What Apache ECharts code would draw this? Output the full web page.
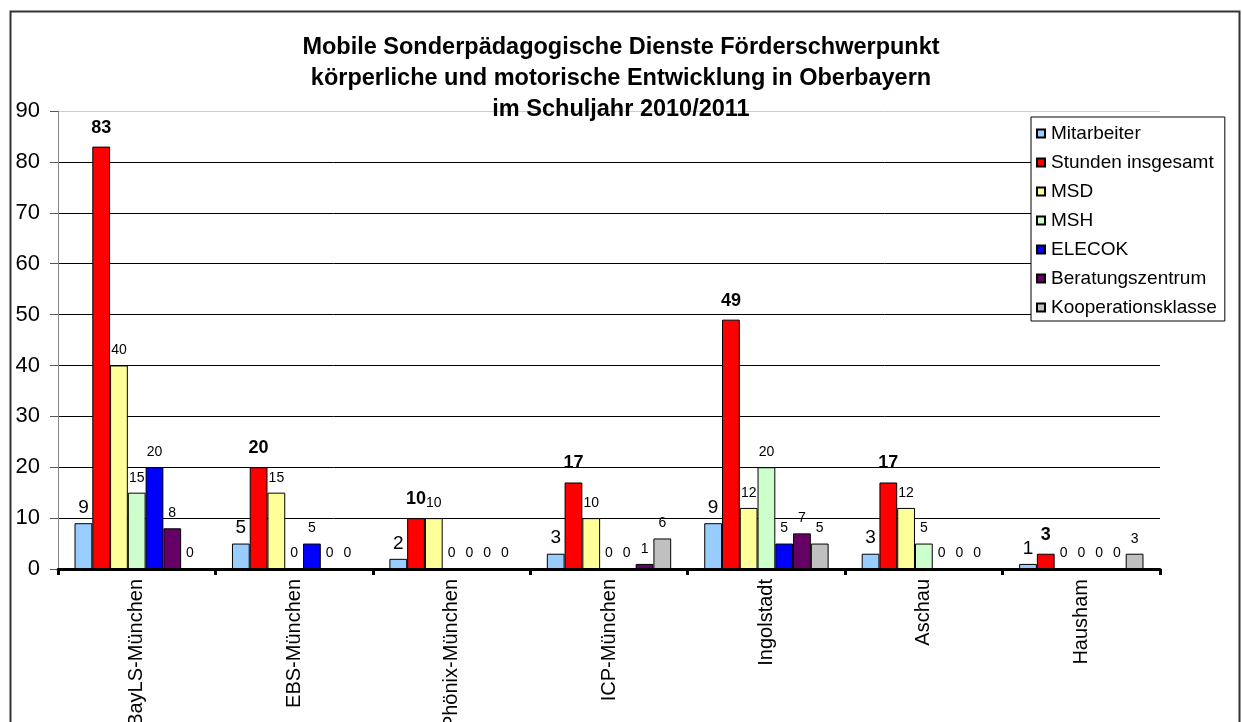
<!DOCTYPE html>
<html>
<head>
<meta charset="utf-8">
<title>Mobile Sonderpädagogische Dienste</title>
<script src="https://cdn.jsdelivr.net/npm/echarts@6/dist/echarts.min.js"></script>
<style>
  html, body { margin: 0; padding: 0; background: #fff; }
  #chart { width: 1242px; height: 722px; }
</style>
</head>
<body>
<div id="chart"></div>
<script>
// Kategorien (Schulen)
const categories = ['BayLS-München', 'EBS-München', 'Phönix-München', 'ICP-München', 'Ingolstadt', 'Aschau', 'Hausham']

// Werte je Reihe
const mitarbeiter = [9, 5, 2, 3, 9, 3, 1]
const stunden = [83, 20, 10, 17, 49, 17, 3]
const msd = [40, 15, 10, 10, 12, 12, 0]
const msh = [15, 0, 0, 0, 20, 5, 0]
const elecok = [20, 5, 0, 0, 5, 0, 0]
const beratung = [8, 0, 0, 1, 7, 0, 0]
const kooperation = [0, 0, 0, 6, 5, 0, 3]

const yTicks = [0, 10, 20, 30, 40, 50, 60, 70, 80, 90]

const font = 'Liberation Sans, Arial, sans-serif'

function barSeries(name, data, color, label) {
  return {
    name: name,
    type: 'bar',
    data: data,
    barGap: 0,
    barCategoryGap: '21%',
    itemStyle: {
      color: color,
      borderColor: '#000',
      borderWidth: 1
    },
    label: Object.assign({
      show: true,
      position: 'top',
      color: '#000',
      fontFamily: font,
      fontSize: 14,
      distance: 8
    }, label || {})
  }
}

const chart = echarts.init(document.getElementById('chart'))

chart.setOption({
  animation: false,
  backgroundColor: '#fff',
  title: {
    text: 'Mobile Sonderpädagogische Dienste Förderschwerpunkt\nkörperliche und motorische Entwicklung in Oberbayern\nim Schuljahr 2010/2011',
    left: 'center',
    top: 27,
    z: 10,
    textStyle: {
      fontFamily: font,
      fontSize: 23.5,
      fontWeight: 'bold',
      lineHeight: 31,
      color: '#000',
      align: 'center'
    }
  },
  legend: {
    orient: 'vertical',
    left: 1031,
    top: 117,
    padding: [7, 8, 4, 5],
    itemWidth: 8,
    itemHeight: 8,
    itemGap: 10,
    icon: 'rect',
    backgroundColor: '#fff',
    borderColor: '#000',
    borderWidth: 1,
    z: 5,
    textStyle: {
      fontFamily: font,
      fontSize: 19,
      lineHeight: 19,
      color: '#000',
      padding: [0, 0, 0, 1]
    }
  },
  graphic: [{
    type: 'rect',
    left: 8,
    top: 9,
    shape: { width: 1229, height: 740 },
    style: { fill: 'none', stroke: '#333', lineWidth: 2 },
    z: -1
  }],
  grid: {
    left: 58,
    right: 82,
    top: 111,
    bottom: 153,
    containLabel: false,
    outerBoundsMode: 'none'
  },
  xAxis: {
    type: 'category',
    data: categories,
    axisLine: { lineStyle: { color: '#000', width: 3 } },
    axisTick: { show: true, length: 6, lineStyle: { color: '#000', width: 3 } },
    axisLabel: {
      rotate: 90,
      margin: 10,
      fontFamily: font,
      fontSize: 20,
      color: '#000',
      interval: 0
    },
    splitLine: { show: false }
  },
  yAxis: {
    type: 'value',
    min: yTicks[0],
    max: yTicks[yTicks.length - 1],
    interval: 10,
    axisLine: { show: true, lineStyle: { color: '#888', width: 1 } },
    axisTick: { show: true, inside: false, length: 8, lineStyle: { color: '#555' } },
    axisLabel: {
      margin: 18,
      fontFamily: font,
      fontSize: 22,
      color: '#000'
    },
    splitLine: {
      show: true,
      lineStyle: {
        color: ['#000', '#000', '#000', '#000', '#000', '#000', '#000', '#000', '#000', '#ccc'],
        width: 1
      }
    }
  },
  series: [
    barSeries('Mitarbeiter', mitarbeiter, '#99ccff', { fontSize: 19, distance: 6 }),
    barSeries('Stunden insgesamt', stunden, '#ff0000', { fontSize: 18, fontWeight: 'bold', distance: 10 }),
    barSeries('MSD', msd, '#ffff99'),
    barSeries('MSH', msh, '#ccffcc'),
    barSeries('ELECOK', elecok, '#0000ff'),
    barSeries('Beratungszentrum', beratung, '#660066'),
    barSeries('Kooperationsklasse', kooperation, '#c0c0c0')
  ]
})
</script>
</body>
</html>
